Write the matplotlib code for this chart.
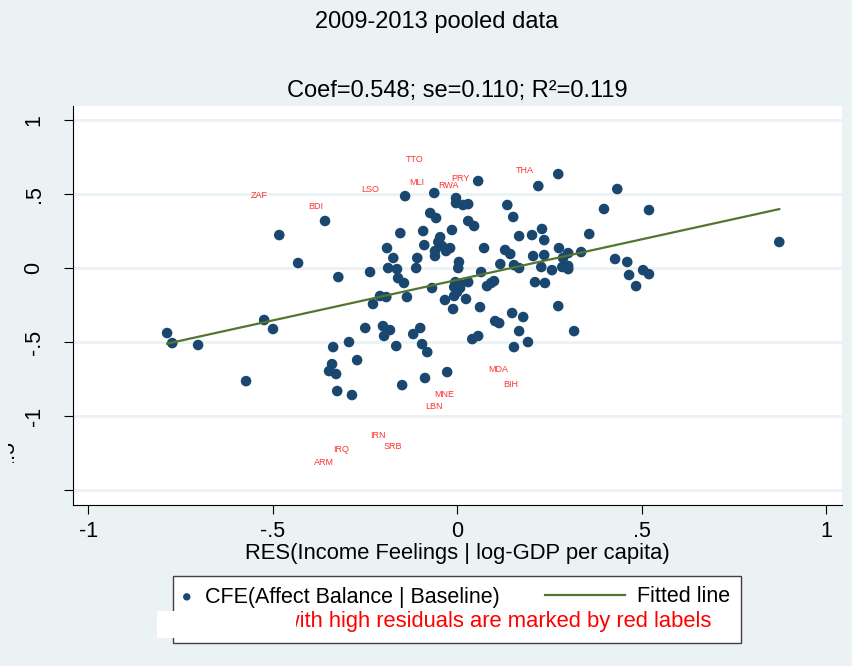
import matplotlib
matplotlib.use("Agg")
import matplotlib.pyplot as plt
from matplotlib.patches import Rectangle
from matplotlib.transforms import Bbox, TransformedBbox
import numpy as np

plt.rcParams['font.family'] = ['Liberation Sans', 'DejaVu Sans']

# ---- data ----
res_income = [
    -0.786, -0.772, -0.702, -0.572, -0.482, -0.431, -0.358, -0.322, -0.523, -0.499,
    -0.236, -0.249, -0.293, -0.336, -0.271, -0.339, -0.347, -0.328, -0.325, -0.285,
    -0.141, -0.062, 0.057, -0.003, -0.003, 0.016, 0.030, 0.136, 0.152, -0.073,
    -0.057, 0.030, 0.046, -0.154, -0.092, -0.014, -0.046, -0.051, -0.041, -0.019,
    -0.030, -0.060, -0.060, -0.089, -0.190, -0.173, -0.108, -0.111, -0.187, -0.163,
    0.005, 0.003, 0.073, 0.168, 0.130, 0.144, 0.117, 0.154, 0.168, -0.160,
    -0.144, -0.005, 0.008, 0.030, 0.081, 0.092, 0.100, -0.068, -0.008, 0.008,
    0.000, -0.008, 0.024, -0.033, -0.011, 0.062, -0.136, -0.228, -0.209, -0.192,
    0.149, 0.179, 0.103, 0.114, 0.168, -0.201, -0.182, -0.198, -0.165, -0.119,
    -0.100, -0.095, -0.081, 0.041, 0.057, 0.154, 0.192, -0.027, -0.087, -0.149,
    0.274, 0.220, 0.434, 0.398, 0.520, 0.358, 0.203, 0.230, 0.236, 0.276,
    0.206, 0.236, 0.301, 0.287, 0.336, 0.228, 0.257, 0.285, 0.301, 0.301,
    0.428, 0.461, 0.466, 0.485, 0.504, 0.520, 0.211, 0.238, 0.274, 0.317,
    0.873, 0.065,
]
cfe_affect = [
    -0.439, -0.507, -0.520, -0.764, 0.223, 0.034, 0.318, -0.061, -0.351, -0.412,
    -0.027, -0.405, -0.500, -0.534, -0.622, -0.649, -0.696, -0.716, -0.831, -0.858,
    0.486, 0.507, 0.588, 0.473, 0.439, 0.426, 0.432, 0.426, 0.345, 0.372,
    0.338, 0.318, 0.284, 0.236, 0.250, 0.257, 0.209, 0.176, 0.149, 0.135,
    0.115, 0.115, 0.081, 0.155, 0.135, 0.068, 0.068, 0.000, 0.000, -0.007,
    0.041, 0.000, 0.135, 0.216, 0.122, 0.095, 0.027, 0.020, 0.000, -0.068,
    -0.101, -0.095, -0.108, -0.095, -0.122, -0.101, -0.088, -0.135, -0.128, -0.135,
    -0.162, -0.189, -0.209, -0.216, -0.277, -0.264, -0.196, -0.243, -0.189, -0.196,
    -0.304, -0.331, -0.358, -0.372, -0.426, -0.392, -0.419, -0.459, -0.527, -0.446,
    -0.405, -0.514, -0.568, -0.480, -0.459, -0.534, -0.500, -0.703, -0.743, -0.791,
    0.635, 0.554, 0.534, 0.399, 0.392, 0.230, 0.223, 0.264, 0.189, 0.135,
    0.081, 0.088, 0.101, 0.068, 0.108, 0.007, -0.014, 0.007, 0.014, -0.007,
    0.061, 0.041, -0.047, -0.122, -0.014, -0.041, -0.095, -0.101, -0.257, -0.426,
    0.176, -0.027,
]

# outlier country labels and their label positions
label_codes = ["TTO", "THA", "PRY", "RWA", "MLI", "LSO", "ZAF", "BDI",
               "MDA", "BIH", "MNE", "LBN", "IRN", "SRB", "IRQ", "ARM"]
label_x = [-0.114, 0.184, 0.009, -0.023, -0.109, -0.236, -0.536, -0.382,
           0.112, 0.145, -0.035, -0.062, -0.214, -0.175, -0.315, -0.362]
label_y = [0.736, 0.662, 0.602, 0.556, 0.576, 0.534, 0.493, 0.414,
           -0.684, -0.786, -0.853, -0.937, -1.133, -1.203, -1.228, -1.316]

fit_coef = 0.548
fit_intercept = -0.080

x_ticks = [-1, -0.5, 0, 0.5, 1]
x_tick_labels = ["-1", "-.5", "0", ".5", "1"]
y_ticks = [-1.5, -1, -0.5, 0, 0.5, 1]
y_tick_labels = ["", "-1", "-.5", "0", ".5", "1"]
hidden_tick_label = "-1.5"

title_text = "2009-2013 pooled data"
subtitle_text = "Coef=0.548; se=0.110; R\u00b2=0.119"
xlabel_text = "RES(Income Feelings | log-GDP per capita)"
legend_labels = ["CFE(Affect Balance | Baseline)", "Fitted line"]
note_text = "Countries with high residuals are marked by red labels"

# ---- styling ----
BG = "#EAF2F3"
NAVY = "#1A476F"
OLIVE = "#55752F"
W, H = 852, 666

fig = plt.figure(figsize=(W / 100, H / 100), dpi=100, facecolor=BG)
ax = fig.add_axes([73 / W, 1 - 505 / H, (842 - 73) / W, (505 - 106) / H])
ax.set_facecolor("white")

ax.set_xlim(-1.041, 1.043)
ax.set_ylim(-1.601, 1.095)

for yv in y_ticks:
    ax.axhline(yv, color=BG, lw=2.0, zorder=0)

sc = ax.scatter(res_income, cfe_affect, s=58, color=NAVY, edgecolors="none", zorder=3)

xs = np.array([min(res_income), max(res_income)])
ln, = ax.plot(xs, fit_intercept + fit_coef * xs, color=OLIVE, lw=1.6, zorder=4)

for code, lx, ly in zip(label_codes, label_x, label_y):
    ax.text(lx, ly, code, color="#FF3030", fontsize=6.5, ha="center", va="center", zorder=5)

for s in ["top", "right"]:
    ax.spines[s].set_visible(False)
for s in ["left", "bottom"]:
    ax.spines[s].set_color("black")
    ax.spines[s].set_linewidth(0.8)

ax.set_xticks(x_ticks)
ax.set_xticklabels(x_tick_labels)
ax.set_yticks(y_ticks)
ax.set_yticklabels(y_tick_labels)
ax.tick_params(axis="both", direction="out", length=6.5, width=0.8, color="black",
               labelsize=15.5)
ax.tick_params(axis="x", pad=5)
ax.tick_params(axis="y", pad=14, labelrotation=90)
for lbl in ax.get_yticklabels():
    lbl.set_va("center")

ax.set_xlabel(xlabel_text, fontsize=15.8, labelpad=1)

# partly hidden "-1.5" label at the lower left (as in the reference)
frag = fig.text(9 / W, 1 - 460 / H, hidden_tick_label, fontsize=15.5, rotation=90,
                ha="center", va="center")
frag.set_clip_on(True)
frag.set_clip_box(TransformedBbox(Bbox.from_extents(8 / W, 1 - 463 / H, 17 / W, 1 - 443 / H),
                                  fig.transFigure))

fig.text(437 / W, 1 - 22 / H, title_text, fontsize=17, ha="center", va="center")
fig.text(457 / W, 1 - 91 / H, subtitle_text, fontsize=17, ha="center", va="center")

# legend box
box = Rectangle((173 / W, 1 - 643 / H), (741 - 173) / W, (643 - 576) / H,
                transform=fig.transFigure, facecolor="white", edgecolor="#404040",
                lw=1.0, zorder=1)
fig.patches.append(box)

leg1 = fig.legend(handles=[sc], labels=[legend_labels[0]], loc="center left",
                  bbox_to_anchor=(176 / W, 1 - 597 / H), frameon=False, borderpad=0,
                  borderaxespad=0, handlelength=1.0, handletextpad=0.35,
                  fontsize=15.5, scatterpoints=1, markerscale=0.7)
leg1.set_zorder(3)
leg2 = fig.legend(handles=[ln], labels=[legend_labels[1]], loc="center left",
                  bbox_to_anchor=(545 / W, 1 - 597 / H), frameon=False, borderpad=0,
                  borderaxespad=0, handlelength=3.72, handletextpad=0.56,
                  fontsize=15.5)
leg2.set_zorder(3)

fig.text(711 / W, 1 - 622 / H, note_text, color="red", fontsize=15.85,
         ha="right", va="center", zorder=4)

cover = Rectangle((157 / W, 1 - 638 / H), (296 - 157) / W, (638 - 611) / H,
                  transform=fig.transFigure, facecolor="white", edgecolor="none",
                  zorder=10)
fig.patches.append(cover)

fig.savefig("out.png", dpi=100, facecolor=BG)
